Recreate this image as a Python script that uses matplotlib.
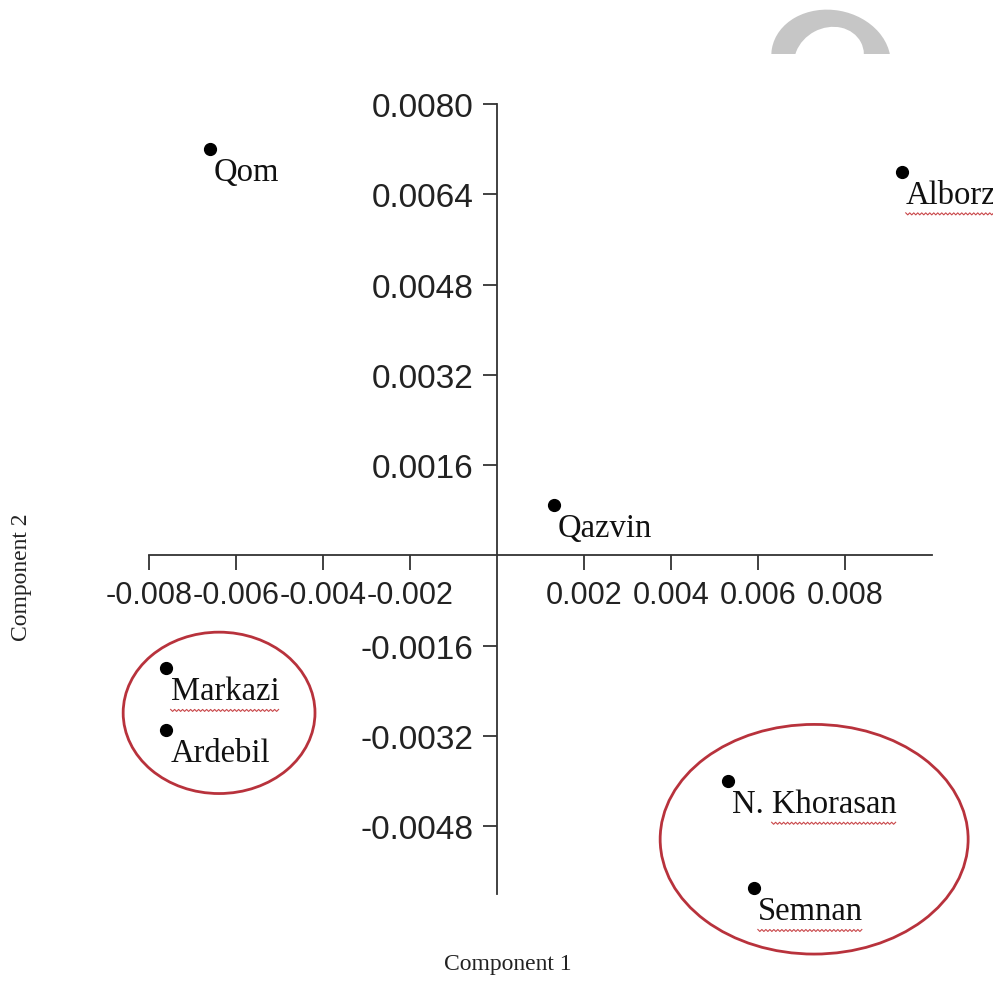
import matplotlib
matplotlib.use("Agg")
import numpy as np
import matplotlib.pyplot as plt
from matplotlib.patches import Ellipse, Rectangle
from matplotlib.lines import Line2D
from matplotlib.transforms import IdentityTransform

# PCA scores (component 1, component 2)
provinces = ["Qom", "Alborz", "Qazvin", "Markazi", "Ardebil", "N. Khorasan", "Semnan"]
comp1 = [-0.0066, 0.0093, 0.0013, -0.0076, -0.0076, 0.0053, 0.0059]
comp2 = [0.0072, 0.0068, 0.0009, -0.0020, -0.0031, -0.0040, -0.0059]

xticks = [-0.008, -0.006, -0.004, -0.002, 0.002, 0.004, 0.006, 0.008]
yticks = [0.0080, 0.0064, 0.0048, 0.0032, 0.0016, -0.0016, -0.0032, -0.0048]

# groups circled in red: (center x, center y, width, height) in data units
groups = [(-0.00639, -0.00279, 0.00441, 0.00286),
          (0.00729, -0.00503, 0.00708, 0.00407)]

# words flagged by the spell checker (prefix left un-underlined)
flagged = {"Alborz": "", "Markazi": "", "N. Khorasan": "N. ", "Semnan": ""}

serif = ["Liberation Serif", "DejaVu Serif"]

fig = plt.figure(figsize=(9.93, 10.03), dpi=100)
ax = fig.add_axes([0.1501, 0.1077, 0.7885, 0.7876])
ax.set_xlim(-0.008, 0.010)
ax.set_ylim(-0.006, 0.008)

for s in ["top", "right"]:
    ax.spines[s].set_visible(False)
ax.spines["left"].set_position(("data", 0))
ax.spines["bottom"].set_position(("data", 0))
for s in ["left", "bottom"]:
    ax.spines[s].set_linewidth(1.3)
    ax.spines[s].set_color("#333333")

ax.set_xticks(xticks)
ax.set_xticklabels(["%.3f" % v for v in xticks])
ax.set_yticks(yticks)
ax.set_yticklabels(["%.4f" % v for v in yticks])
ax.tick_params(axis="x", direction="out", length=11, width=1.3, pad=7,
               labelsize=22, color="#333333")
ax.tick_params(axis="y", direction="out", length=10, width=1.3, pad=7,
               labelsize=24, color="#333333")
for lab in ax.get_xticklabels() + ax.get_yticklabels():
    lab.set_family(["Liberation Sans", "DejaVu Sans"])
    lab.set_color("#222222")

ax.plot(comp1, comp2, "o", color="black", markersize=8.5, clip_on=False, zorder=3)
labels = []
for name, x, y in zip(provinces, comp1, comp2):
    t = ax.annotate(name, (x, y), xytext=(3, -5.5), textcoords="offset points",
                    ha="left", va="top", fontsize=23.5, family=serif,
                    color="#111111", annotation_clip=False)
    labels.append(t)

for cx, cy, w, h in groups:
    ax.add_patch(Ellipse((cx, cy), w, h, fill=False, edgecolor="#b8323c",
                         linewidth=2, clip_on=False))

fig.text(22 / 993, 1 - 577 / 1003, "Component 2", rotation=90, ha="center", va="center",
         fontsize=17, family=serif, color="#222222")
fig.text(508 / 993, 1 - 965 / 1003, "Component 1", ha="center", va="center",
         fontsize=17, family=serif, color="#222222")

# red wavy spell-check underlines
fig.canvas.draw()
r = fig.canvas.get_renderer()
for t in labels:
    name = t.get_text()
    if name not in flagged:
        continue
    bb = t.get_window_extent(r)
    x0 = bb.x0
    if flagged[name]:
        pre = fig.text(0, 0, flagged[name], fontsize=23.5, family=serif)
        x0 += pre.get_window_extent(r).width
        pre.remove()
    xs = np.arange(x0, bb.x1, 2.0)
    ys = bb.y0 - 4 + np.where(np.arange(len(xs)) % 2 == 0, 1.0, -1.0)
    fig.add_artist(Line2D(xs, ys, transform=IdentityTransform(), color="#c9474a",
                          linewidth=0.8))

# grey arc at top right
clip = Rectangle((7.5, (1003 - 55) / 100), 2.0, 1.0, transform=fig.dpi_scale_trans,
                 visible=False)
fig.add_artist(clip)
outer = Ellipse((8.31, (1003 - 60) / 100), 1.20, 0.98, angle=-10,
                transform=fig.dpi_scale_trans, facecolor="#c6c6c6", edgecolor="none")
inner = Ellipse((8.29, (1003 - 60) / 100), 0.72, 0.62, angle=28,
                transform=fig.dpi_scale_trans, facecolor="white", edgecolor="none")
for p in (outer, inner):
    fig.add_artist(p)
    p.set_clip_path(clip)

fig.savefig("out.png", dpi=100)
